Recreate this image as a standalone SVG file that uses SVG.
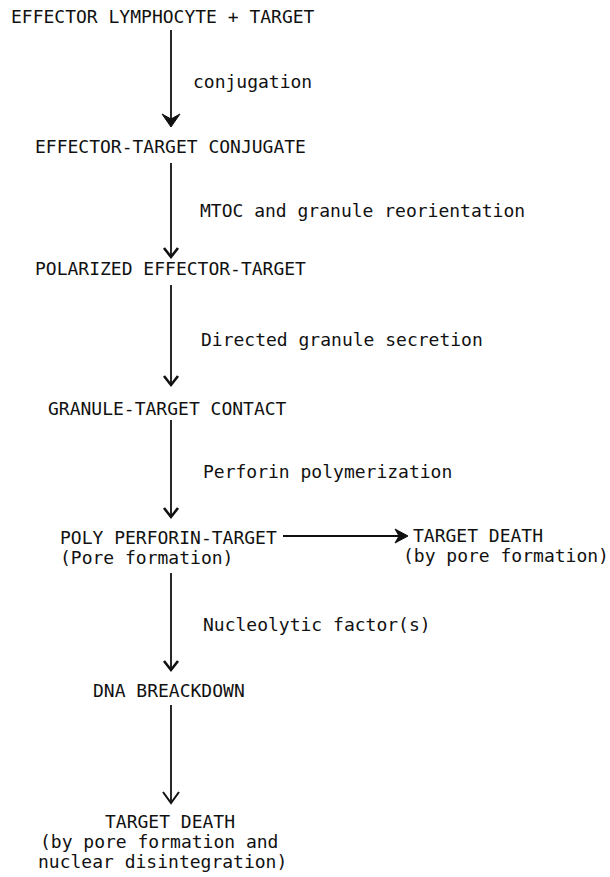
<svg xmlns="http://www.w3.org/2000/svg" width="610" height="877" viewBox="0 0 610 877">
<style>
text{font-family:"DejaVu Sans Mono","Liberation Mono",monospace;font-size:18px;fill:#111}
.shaft{stroke:#111;stroke-width:1.8;fill:none}
.chev{stroke:#111;stroke-width:2.6;fill:none;stroke-linejoin:miter}
.thin{stroke:#111;stroke-width:2;fill:none}
.solid{fill:#111;stroke:#111;stroke-width:1;stroke-linejoin:miter}
</style>
<rect width="610" height="877" fill="#fff"/>
<g id="connectors">
<line class="shaft" x1="171" y1="30" x2="171" y2="122"/>
<path class="solid" d="M162,114 L171,127 L180,114 L171,119 Z"/>
<line class="shaft" x1="171" y1="163" x2="171" y2="256"/>
<path class="chev" d="M164,248 L171,257 L178,248"/>
<line class="shaft" x1="171" y1="285" x2="171" y2="384"/>
<path class="chev" d="M164,376 L171,385 L178,376"/>
<line class="shaft" x1="171" y1="420" x2="171" y2="515"/>
<path class="chev" d="M164,508 L171,517 L178,508"/>
<line class="shaft" x1="283" y1="536" x2="404" y2="536"/>
<path class="solid" d="M395,529 L408,536 L395,543 L399,536 Z"/>
<line class="shaft" x1="171" y1="573" x2="171" y2="668"/>
<path class="chev" d="M164,661 L171,670 L178,661"/>
<line class="shaft" x1="171" y1="705" x2="171" y2="801"/>
<path class="thin" d="M163,792 L171,803 L179,792"/>
</g>
<g id="n1"><text x="11" y="23">EFFECTOR LYMPHOCYTE + TARGET</text></g>
<g id="l1"><text x="193" y="88">conjugation</text></g>
<g id="n2"><text x="35" y="153">EFFECTOR-TARGET CONJUGATE</text></g>
<g id="l2"><text x="200" y="217">MTOC and granule reorientation</text></g>
<g id="n3"><text x="35" y="275">POLARIZED EFFECTOR-TARGET</text></g>
<g id="l3"><text x="201" y="346">Directed granule secretion</text></g>
<g id="n4"><text x="48" y="415">GRANULE-TARGET CONTACT</text></g>
<g id="l4"><text x="203" y="478">Perforin polymerization</text></g>
<g id="n5"><text x="60" y="544">POLY PERFORIN-TARGET</text><text x="60" y="564">(Pore formation)</text></g>
<g id="n6"><text x="413" y="542">TARGET DEATH</text><text x="403" y="562">(by pore formation)</text></g>
<g id="l5"><text x="203" y="631">Nucleolytic factor(s)</text></g>
<g id="n7"><text x="93" y="697">DNA BREACKDOWN</text></g>
<g id="n8"><text x="105" y="828">TARGET DEATH</text><text x="40" y="848">(by pore formation and</text><text x="38" y="868">nuclear disintegration)</text></g>
</svg>
